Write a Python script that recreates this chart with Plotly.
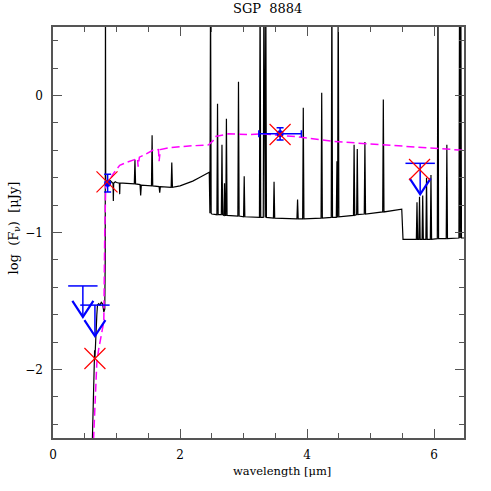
import plotly.graph_objects as go

# ---------------- data ----------------
# black model spectrum (wavelength in micron, log flux in microJy); spikes are emission/absorption lines
model_wl = [0.615, 0.63, 0.645, 0.655, 0.66, 0.665, 0.675, 0.69, 0.70, 0.72, 0.74, 0.76, 0.78, 0.80, 0.815,
            0.822, 0.826, 0.830, 0.845, 0.87, 0.90, 0.93, 0.945, 0.95, 0.955, 0.98, 1.00, 1.045, 1.05, 1.055,
            1.10, 1.20, 1.28, 1.29, 1.30, 1.37, 1.38, 1.39, 1.45, 1.55, 1.56, 1.57, 1.67, 1.68, 1.69, 1.80,
            1.86, 1.87, 1.88, 2.00, 2.10, 2.20, 2.30, 2.41, 2.46, 2.47, 2.48, 2.49, 2.50, 2.58, 2.59, 2.60,
            2.65, 2.66, 2.67, 2.69, 2.70, 2.71, 2.72, 2.73, 2.74, 2.91, 2.92, 2.93, 3.00, 3.01, 3.02, 3.25,
            3.26, 3.27, 3.31, 3.32, 3.33, 3.34, 3.35, 3.36, 3.47, 3.48, 3.49, 3.84, 3.85, 3.86, 3.93, 3.94,
            3.95, 4.22, 4.23, 4.24, 4.38, 4.39, 4.40, 4.46, 4.47, 4.48, 4.49, 4.50, 4.73, 4.74, 4.75, 4.78,
            4.79, 4.80, 4.90, 4.91, 4.92, 5.19, 5.20, 5.21, 5.49, 5.50, 5.51, 5.72, 5.73, 5.74, 5.76, 5.77,
            5.78, 5.81, 5.82, 5.83, 5.87, 5.88, 5.89, 5.94, 5.95, 5.96, 6.05, 6.06, 6.07, 6.19, 6.20, 6.21,
            6.39, 6.40, 6.41, 6.42, 6.43, 6.47]
model_logf = [-2.60, -2.25, -2.00, -1.86, -1.92, -1.84, -1.75, -1.60, -1.53, -1.52, -1.53, -1.51, -1.52, -1.58, -1.56,
              -1.20, 0.80, -0.66, -0.64, -0.63, -0.62, -0.635, -0.64, -0.77, -0.64, -0.63, -0.635, -0.64, -0.72, -0.64,
              -0.64, -0.64, -0.645, -0.47, -0.645, -0.65, -0.73, -0.655, -0.655, -0.66, -0.29, -0.66, -0.665, -0.71, -0.665, -0.67,
              -0.67, -0.49, -0.67, -0.66, -0.645, -0.625, -0.60, -0.57, -0.56, -0.86, 0.80, -0.86, -0.865, -0.87, -0.06, -0.87,
              -0.87, -0.36, -0.87, -0.875, -0.64, -0.875, -0.875, -0.17, -0.875, -0.88, 0.10, -0.88, -0.885, -0.59, -0.885, -0.89,
              0.80, -0.89, -0.89, 0.80, -0.89, -0.89, 0.80, -0.89, -0.895, -0.63, -0.895, -0.90, -0.76, -0.90, -0.90, -0.09,
              -0.90, -0.895, 0.02, -0.895, -0.89, 0.80, -0.89, -0.89, -0.48, -0.89, 0.80, -0.885, -0.875, -0.36, -0.875, -0.87,
              -0.39, -0.87, -0.865, -0.34, -0.865, -0.85, -0.03, -0.85, -0.83, -1.05, -1.05, -1.05, -0.78, -1.05, -1.05, -0.74,
              -1.05, -1.05, -0.73, -1.05, -1.05, -0.60, -1.05, -1.05, -0.58, -1.05, -1.045, 0.80, -1.045, -1.045, -0.36, -1.045,
              -1.04, 0.80, -1.04, 0.80, -1.04, -1.04]

# magenta dashed model
star_wl = [0.63, 0.66, 0.69, 0.72, 0.75, 0.78, 0.80, 0.815, 0.83, 0.86, 0.89, 0.95, 1.05, 1.15, 1.26, 1.33, 1.34,
           1.36, 1.45, 1.57, 1.66, 1.67, 1.69, 1.84, 2.10, 2.45, 2.52, 2.55, 2.76, 3.10, 3.29, 3.81, 4.41,
           4.57, 5.46, 5.83, 6.44, 6.47]
star_logf = [-2.60, -2.20, -1.95, -1.85, -1.78, -1.70, -1.65, -1.00, -0.66, -0.64, -0.62, -0.57, -0.51, -0.49, -0.47, -0.46, -0.52,
             -0.45, -0.43, -0.40, -0.395, -0.48, -0.395, -0.38, -0.37, -0.36, -0.33, -0.30, -0.28, -0.285, -0.28, -0.30, -0.335,
             -0.34, -0.37, -0.38, -0.40, -0.40]

# photometric detections (blue)
det_wl = [0.86, 3.575]
det_logf = [-0.64, -0.28]
det_err_logf = [0.065, 0.045]
det_err_wl = [0.0, 0.335]

# upper limits (blue arrows)
ul_wl = [0.47, 0.66, 5.78]
ul_logf = [-1.39, -1.53, -0.495]

# model fluxes in the bands (red crosses)
mod_wl = [0.66, 0.85, 3.575, 5.77]
mod_logf = [-1.92, -0.63, -0.285, -0.54]

x_range = [0, 6.47]
y_range = [-2.5, 0.5]

# ---------------- styling ----------------
FONT = "DejaVu Serif"
BLUE = "#0000ff"
W, H = 491, 491
ML, MR, MT, MB = 53, 27, 27, 53
# upper-limit glyph sizes (pixels) converted to data units
px_x = (x_range[1] - x_range[0]) / (W - ML - MR)
px_y = (y_range[1] - y_range[0]) / (H - MT - MB)
ARROW_PX, HEAD_H_PX, HEAD_W_PX = 31, 16, 10.5

fig = go.Figure()

fig.add_trace(go.Scatter(x=model_wl, y=model_logf, mode="lines",
                         line=dict(color="black", width=1.2), hoverinfo="skip"))
fig.add_trace(go.Scatter(x=star_wl, y=star_logf, mode="lines",
                         line=dict(color="#ff00ff", width=1.5, dash="8px,4px"), hoverinfo="skip"))

# upper limits: cap, stem and open arrow head
fig.add_trace(go.Scatter(x=ul_wl, y=ul_logf, mode="markers",
                         marker=dict(symbol="line-ew", size=21, line=dict(color=BLUE, width=1.5)),
                         error_y=dict(type="data", symmetric=False, array=[0] * len(ul_wl),
                                      arrayminus=[ARROW_PX * px_y] * len(ul_wl),
                                      color=BLUE, thickness=1.5, width=0)))
vx, vy = [], []
for xw, yl in zip(ul_wl, ul_logf):
    tip = yl - ARROW_PX * px_y
    vx += [xw - HEAD_W_PX * px_x, xw, xw + HEAD_W_PX * px_x, None]
    vy += [tip + HEAD_H_PX * px_y, tip, tip + HEAD_H_PX * px_y, None]
fig.add_trace(go.Scatter(x=vx, y=vy, mode="lines", line=dict(color=BLUE, width=2.2), hoverinfo="skip"))

# detections
fig.add_trace(go.Scatter(x=det_wl, y=det_logf, mode="markers",
                         marker=dict(symbol="circle", size=7, color=BLUE),
                         error_y=dict(type="data", array=det_err_logf, color=BLUE, thickness=1.5, width=3.5),
                         error_x=dict(type="data", array=det_err_wl, color=BLUE, thickness=1.5, width=3.5)))

# model band fluxes
fig.add_trace(go.Scatter(x=mod_wl, y=mod_logf, mode="markers",
                         marker=dict(symbol="x-thin-open", size=21, color="red",
                                     line=dict(color="red", width=1.2))))

axis_common = dict(showline=True, linecolor="#555555", linewidth=1.5, mirror="allticks",
                   ticks="inside", ticklen=9, tickwidth=1, tickcolor="#555555",
                   showgrid=False, zeroline=False,
                   tickfont=dict(family=FONT, size=12, color="black"))
fig.update_xaxes(range=x_range, dtick=2, tick0=0,
                 minor=dict(dtick=0.5, ticks="inside", ticklen=5, tickcolor="#555555", showgrid=False),
                 ticklabelstandoff=5, **axis_common)
fig.update_yaxes(range=y_range, dtick=1, tick0=0,
                 minor=dict(dtick=0.2, ticks="inside", ticklen=5, tickcolor="#555555", showgrid=False),
                 ticklabelstandoff=6, **axis_common)

fig.update_layout(
    width=W, height=H, showlegend=False, hovermode=False,
    margin=dict(l=ML, r=MR, t=MT, b=MB),
    paper_bgcolor="white", plot_bgcolor="white",
    annotations=[
        dict(text="SGP  8884", xref="paper", yref="paper", x=0.523, y=1.0, yshift=9,
             showarrow=False, font=dict(family=FONT, size=13, color="black"), xanchor="center", yanchor="bottom"),
        dict(text="wavelength [μm]", xref="paper", yref="paper", x=0.557, y=0, yshift=-42,
             showarrow=False, font=dict(family=FONT, size=11.5, color="black"), xanchor="center", yanchor="bottom"),
        dict(text="log\u00a0 (F<sub>ν</sub>)\u00a0 [μJy]", xref="paper", yref="paper", x=0, xshift=-39, y=0.51,
             textangle=-90, showarrow=False, font=dict(family=FONT, size=13, color="black"),
             xanchor="center", yanchor="middle"),
    ],
)

# the page's default 8px body margin would shift the figure; remove it
fig.write_html("out.html", config={"displayModeBar": False},
               post_script="document.body.style.margin='0px';")
